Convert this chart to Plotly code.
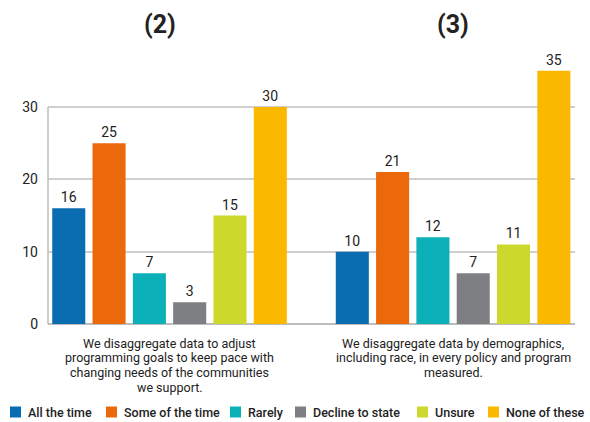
import plotly.graph_objects as go

# Survey statements (x positions 0 and 1) and responses per answer
statements = [
    "We disaggregate data to adjust<br>programming goals to keep pace with<br>changing needs of the communities<br>we support.",
    "We disaggregate data by demographics,<br>including race, in every policy and program<br>measured.",
]
panel_titles = ["(2)", "(3)"]
answers = ["All the time", "Some of the time", "Rarely", "Decline to state", "Unsure", "None of these"]
values = {
    "All the time": [16, 10],
    "Some of the time": [25, 21],
    "Rarely": [7, 12],
    "Decline to state": [3, 7],
    "Unsure": [15, 11],
    "None of these": [30, 35],
}
colors = ["#0a6db2", "#eb680b", "#0bb0b9", "#7e7f83", "#cdd82c", "#fbb800"]
x_pos = [0, 1]

FONT = "Roboto, Arial, sans-serif"
TEXT = "#222222"

W, H = 590, 422
ML, MR, MT, MB = 48, 15, 60, 98
PW, PH = W - ML - MR, H - MT - MB

fig = go.Figure()
for name, col in zip(answers, colors):
    fig.add_trace(go.Bar(
        name=name,
        x=x_pos,
        y=values[name],
        marker=dict(color=col, line=dict(width=0)),
        text=[str(v) for v in values[name]],
        textposition="outside",
        textfont=dict(family=FONT, size=14, color=TEXT),
        cliponaxis=False,
        showlegend=False,
    ))

annotations = []
# Statement labels under each group, one annotation per line for tight spacing
line_gap = 14.8
for xc, txt in zip(x_pos, statements):
    for i, line in enumerate(txt.split("<br>")):
        annotations.append(dict(
            x=xc, y=0, xref="x", yref="y", yanchor="middle", xanchor="center",
            yshift=-(19 + i * line_gap), text=line, showarrow=False, borderpad=0,
            font=dict(family=FONT, size=12.5, color=TEXT),
        ))
# Panel titles
for xc, t in zip([-0.034, 1.0], panel_titles):
    annotations.append(dict(
        x=xc, y=1.136, xref="x", yref="paper", yanchor="middle", xanchor="center",
        text="<b>" + t + "</b>", showarrow=False,
        font=dict(family=FONT, size=25, color=TEXT),
    ))

shapes = [dict(type="line", xref="paper", yref="y", x0=0, x1=0, y0=0, y1=30,
               line=dict(color="#bdbdbd", width=1.5))]

# Legend row along the bottom: swatch left edge in pixels for each answer
legend_px = [10, 106, 230, 295, 417, 488]
legend_y = 412
sw = 11
def px_x(p):
    return (p - ML) / PW
def px_y(p):
    return (H - MB - p) / PH
for name, col, lx in zip(answers, colors, legend_px):
    shapes.append(dict(type="rect", xref="paper", yref="paper",
                       x0=px_x(lx), x1=px_x(lx + sw),
                       y0=px_y(legend_y + sw / 2), y1=px_y(legend_y - sw / 2),
                       fillcolor=col, line=dict(width=0)))
    annotations.append(dict(
        x=px_x(lx + sw + 5), y=px_y(legend_y), xref="paper", yref="paper",
        xanchor="left", yanchor="middle", text=name, showarrow=False,
        font=dict(family=FONT, size=12.5, color=TEXT, weight=500),
    ))

fig.update_layout(
    width=W, height=H,
    margin=dict(l=ML, r=MR, t=MT, b=MB, autoexpand=False),
    paper_bgcolor="white", plot_bgcolor="white",
    barmode="group", bargap=0.147, bargroupgap=0.18,
    font=dict(family=FONT, color=TEXT),
    xaxis=dict(range=[-0.4286, 1.43], showticklabels=False, showgrid=False,
               zeroline=False, showline=False, ticks=""),
    yaxis=dict(range=[0, 36.5], tickvals=[0, 10, 20, 30], showgrid=True,
               gridcolor="#cfcfcf", gridwidth=1.5, zeroline=True,
               zerolinecolor="#bdbdbd", zerolinewidth=2, showline=False,
               ticks="", ticklabelstandoff=9,
               tickfont=dict(family=FONT, size=14, color=TEXT)),
    showlegend=False,
    annotations=annotations,
    shapes=shapes,
)

fig.write_html("out.html")
